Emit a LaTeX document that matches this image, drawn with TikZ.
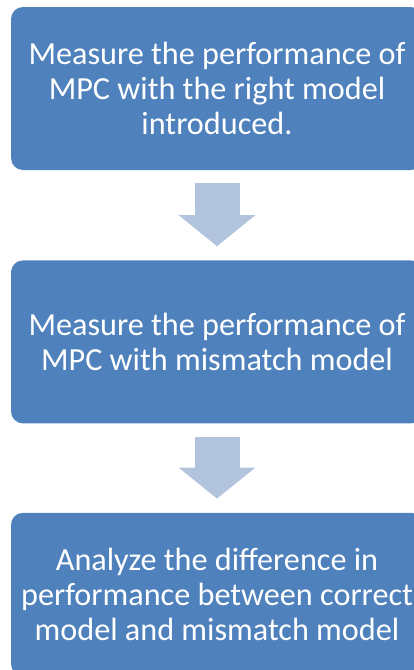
\documentclass[tikz,border=0pt]{standalone}
\usepackage{fontspec}
\setmainfont{Carlito}
\usetikzlibrary{positioning}
\usetikzlibrary{arrows.meta}
\definecolor{boxblue}{RGB}{79,129,189}
\definecolor{arrowblue}{RGB}{178,195,222}
\tikzset{stepbox/.style={fill=boxblue, rounded corners=12pt, minimum width=412pt, minimum height=163pt, inner sep=0pt, align=center, text=white, font=\fontsize{32.2}{35}\selectfont},
	flowarrow/.style={draw=arrowblue, line width=45pt, -{Triangle[width=75pt,length=31pt]}, shorten <=13pt, shorten >=14pt}}

\begin{document}
\begin{tikzpicture}[x=1pt,y=1pt]
	\useasboundingbox (0,0) rectangle (414,-670);
	\node[stepbox] (measure) at (217,-88.5) {Measure the performance of\\ MPC with the right model\\ introduced.};
	\node[stepbox, below=90pt of measure] (mismatch) {Measure the performance of\\ MPC with mismatch model};
	\node[stepbox, below=89pt of mismatch] (analyze) {Analyze the difference in\\ performance between correct\\ model and mismatch model};
	\draw[flowarrow] (measure) -- (mismatch);
	\draw[flowarrow] (mismatch) -- (analyze);
\end{tikzpicture}
\end{document}
